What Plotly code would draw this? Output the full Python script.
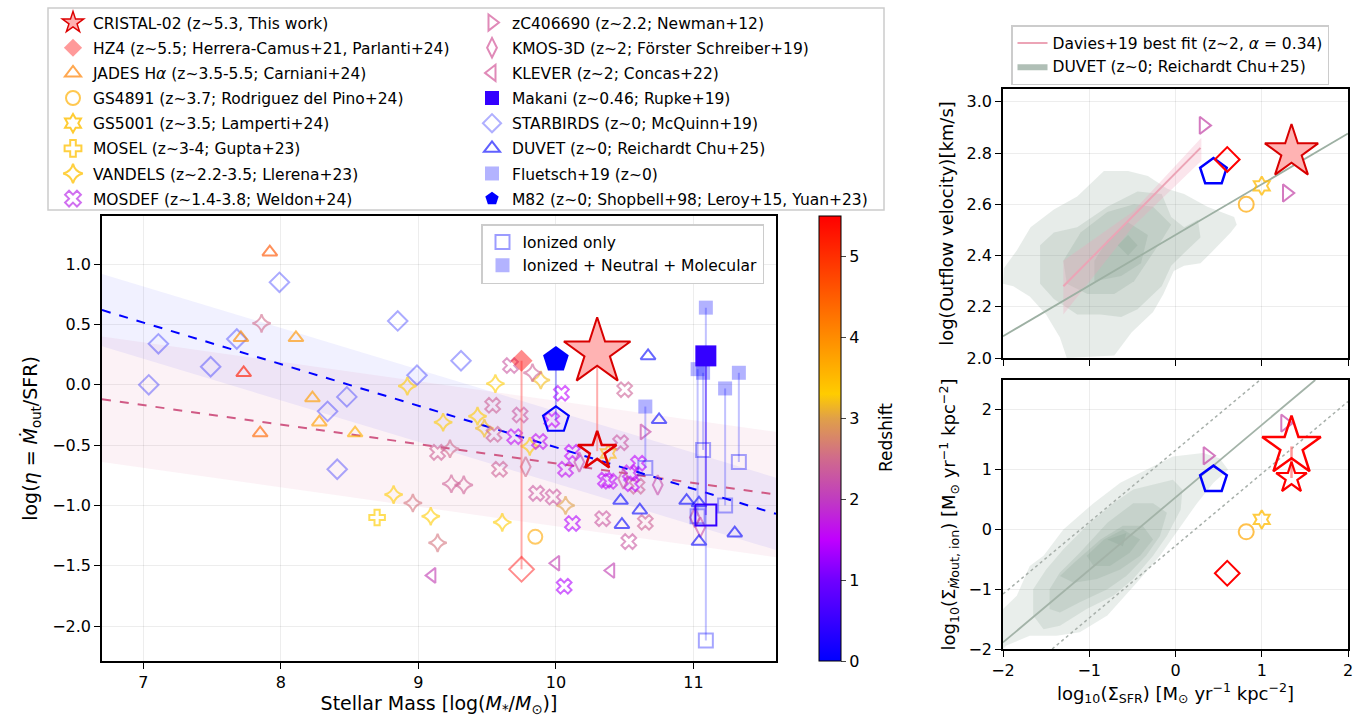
import plotly.graph_objects as go

W, H = 1370, 719
FONT = "DejaVu Sans"

# ---------------- redshift colour scale ----------------
Z_MAX = 5.5
z_stops = [0.0, 1.0, 1.5, 2.0, 2.5, 3.0, 3.3, 4.0, 5.5]
z_colors = ["#0000ff", "#7000ff", "#c000ff", "#c03cc0", "#d06a8c",
            "#e0a048", "#ffcc00", "#ff8c00", "#ff0000"]

# ---------------- mass-loading panel data ----------------
# JADES H-alpha
jades_mass = [8.11, 7.92, 7.71, 7.73, 8.23, 8.28, 7.85, 8.54]
jades_eta = [0.39, 1.10, 0.39, 0.10, -0.11, -0.31, -0.40, -0.40]
jades_z = [3.9, 4.6, 4.0, 5.2, 3.8, 3.8, 4.4, 3.6]

# STARBIRDS
starbirds_mass = [7.99, 7.11, 7.04, 7.49, 7.68, 8.85, 8.99, 8.48, 8.34, 8.41, 9.31]
starbirds_eta = [0.85, 0.34, 0.00, 0.15, 0.38, 0.53, 0.08, -0.10, -0.22, -0.70, 0.20]
starbirds_z = [0.0] * 11

# VANDELS
vandels_mass = [8.92, 9.56, 9.89, 9.18, 9.43, 9.48, 9.81, 8.82, 9.09, 9.61, 10.07,
                7.86, 9.83, 9.23, 9.24, 9.33, 8.96, 9.14]
vandels_eta = [-0.01, 0.01, 0.04, -0.31, -0.26, -0.36, -0.51, -0.91, -1.09, -1.14, -1.00,
               0.51, 0.10, -0.53, -0.82, -0.83, -0.98, -1.31]
vandels_z = [3.3, 3.3, 3.2, 3.3, 3.3, 3.2, 3.3, 3.3, 3.3, 3.3, 3.0,
             2.5, 2.4, 2.5, 2.4, 2.4, 2.6, 2.6]

# MOSDEF
mosdef_mass = [10.04, 9.67, 9.54, 9.74, 9.55, 9.14, 9.59, 9.86, 9.98, 10.34, 10.50, 10.47,
               10.59, 10.65, 10.53, 9.97, 9.70, 9.88, 10.12, 10.07, 10.36, 10.39, 10.55,
               10.60, 10.54, 10.12, 10.06]
mosdef_eta = [-0.07, 0.16, -0.17, -0.25, -0.41, -0.56, -0.70, -0.90, -0.93, -1.11, -0.04, -0.48,
              -0.84, -1.14, -1.30, -0.29, -0.43, -0.47, -0.56, -0.70, -0.79, -0.80, -0.82,
              -0.65, -0.73, -1.15, -1.67]
mosdef_z = [1.5, 2.3, 2.4, 2.3, 2.4, 2.4, 2.4, 2.3, 2.3, 2.3, 2.4, 2.3,
            2.4, 2.4, 2.3, 1.5, 1.6, 1.6, 1.5, 1.6, 1.5, 1.6, 1.5,
            1.5, 1.6, 1.4, 1.4]

# KMOS-3D
kmos_mass = [10.74, 10.49, 10.17, 11.01, 11.05, 9.78]
kmos_eta = [-0.83, -0.78, -0.64, -1.10, -1.18, -0.68]
kmos_z = [2.2, 2.3, 2.2, 2.3, 2.2, 2.5]

# KLEVER
klever_mass = [10.00, 10.40, 9.10]
klever_eta = [-1.48, -1.54, -1.58]
klever_z = [2.1, 2.1, 2.1]

# zC406690
zc_mass = [10.64]
zc_eta = [-0.39]
zc_z = [2.2]

# DUVET
duvet_mass = [10.67, 10.75, 10.47, 10.61, 10.48, 10.95, 11.04, 11.04, 11.30]
duvet_eta = [0.24, -0.29, -0.96, -1.04, -1.16, -0.96, -0.98, -1.30, -1.23]
duvet_z = [0.0] * 9

# Fluetsch+19: ionized only vs ionized + neutral + molecular
fluetsch_mass = [10.65, 11.03, 11.07, 11.09, 11.23, 11.33]
fluetsch_eta_total = [-0.18, 0.13, 0.10, 0.64, -0.03, 0.10]
fluetsch_eta_ion = [-0.69, -1.09, -0.54, -2.12, -1.00, -0.64]
fluetsch_z = [0.0] * 6

# Makani
makani_mass = [11.09]
makani_eta_total = [0.24]
makani_eta_ion = [-1.08]
makani_z = [0.46]

# M82
m82_mass = [10.00]
m82_eta_total = [0.21]
m82_eta_ion = [-0.29]
m82_z = [0.0]

# HZ4
hz4_mass = [9.75]
hz4_eta_total = [0.20]
hz4_eta_ion = [-1.53]
hz4_z = [5.5]

# CRISTAL-02
cristal_mass = [10.30]
cristal_eta_total = [0.27]
cristal_eta_ion = [-0.55]

# single objects
gs4891_mass, gs4891_eta, gs4891_z = [9.85], [-1.26], [3.7]
gs5001_mass, gs5001_eta, gs5001_z = [10.38], [-0.57], [3.5]
mosel_mass, mosel_eta, mosel_z = [8.70], [-1.10], [3.3]

# mass-loading relations (end points) with their scatter bands
fit_mass = [6.7, 11.6]
lowz_fit = [0.62, -1.07]
lowz_upper = [0.92, -0.77]
lowz_lower = [0.32, -1.37]
highz_fit = [-0.12, -0.91]
highz_upper = [0.40, -0.39]
highz_lower = [-0.64, -1.43]

# ---------------- outflow velocity panel ----------------
vel_sfr = {"zc": [0.325, 1.29], "m82": [0.44], "hz4": [0.60], "gs4891": [0.82],
           "gs5001": [1.00], "cristal": [1.345]}
vel_logv = {"zc": [2.908, 2.644], "m82": [2.726], "hz4": [2.775], "gs4891": [2.60],
            "gs5001": [2.672], "cristal": [2.804]}

duvet_vel_fit_x = [-2.0, 2.0]
duvet_vel_fit_y = [2.085, 2.876]
davies_x = [-1.30, 0.29]
davies_y = [2.28, 2.82]
davies_band_x = [-1.30, -0.50, 0.30, 0.30, -0.50, -1.30]
davies_band_y = [2.38, 2.57, 2.86, 2.77, 2.51, 2.17]

# DUVET density levels (outer to inner), velocity panel
vel_levels = [
    ([-1.99, -1.84, -1.68, -1.41, -1.14, -0.83, -0.55, -0.32, -0.09, 0.10, 0.37, 0.68, 0.71,
      0.64, 0.41, 0.29, 0.10, -0.02, -0.14, -0.26, -0.51, -0.71, -1.26, -1.34, -1.50, -1.69,
      -1.88, -2.0],
     [2.35, 2.42, 2.51, 2.58, 2.63, 2.73, 2.73, 2.71, 2.66, 2.64, 2.59, 2.55, 2.52,
      2.49, 2.41, 2.37, 2.36, 2.34, 2.25, 2.18, 2.10, 2.01, 2.0, 2.08, 2.17, 2.24,
      2.28, 2.29]),
    ([-1.57, -1.41, -1.14, -0.79, -0.44, -0.16, -0.05, 0.10, 0.26, 0.29, 0.10, -0.05, -0.16,
      -0.44, -0.63, -0.87, -1.14, -1.41, -1.57],
     [2.44, 2.49, 2.51, 2.59, 2.65, 2.64, 2.55, 2.51, 2.54, 2.47, 2.41, 2.36, 2.28,
      2.19, 2.16, 2.17, 2.17, 2.23, 2.29]),
    ([-1.30, -1.10, -0.79, -0.48, -0.26, -0.05, -0.16, -0.32, -0.48, -0.71, -1.02, -1.26],
     [2.38, 2.49, 2.57, 2.60, 2.59, 2.52, 2.46, 2.38, 2.30, 2.25, 2.25, 2.29]),
    ([-0.94, -0.79, -0.55, -0.32, -0.40, -0.63, -0.94],
     [2.38, 2.46, 2.53, 2.48, 2.37, 2.32, 2.30]),
    ([-0.55, -0.44, -0.55, -0.67],
     [2.48, 2.44, 2.40, 2.44]),
]

# ---------------- outflow rate surface density panel ----------------
rate_sfr = {"zc": [1.27, 0.37], "m82": [0.44], "hz4": [0.60], "gs4891": [0.82],
            "gs5001": [1.00]}
rate_val = {"zc": [1.778, 1.233], "m82": [0.833], "hz4": [-0.733], "gs4891": [-0.04],
            "gs5001": [0.167]}
cristal_rate_sfr = [1.345]
cristal_rate_total = [1.389]
cristal_rate_ion = [0.861]

rate_fit_x = [-2.0, 1.62]
rate_fit_y = [-1.89, 2.5]
rate_upper_x = [-2.0, 0.98]
rate_upper_y = [-1.08, 2.5]
rate_lower_x = [-1.43, 2.0]
rate_lower_y = [-2.0, 2.14]

rate_levels = [
    ([-2.0, -1.84, -1.69, -1.53, -1.30, -0.95, -0.64, -0.34, -0.03, 0.32, 0.51, 0.61, 0.44,
      0.25, 0.06, -0.18, -0.45, -0.79, -1.11, -1.38, -1.69, -1.96, -2.0],
     [-1.33, -1.11, -0.61, -0.44, 0.0, 0.44, 0.78, 1.0, 1.22, 1.28, 1.19, 1.0, 0.78,
      0.44, 0.06, -0.44, -0.89, -1.44, -1.72, -1.78, -1.78, -1.94, -2.0]),
    ([-1.65, -1.65, -1.50, -1.30, -1.03, -0.72, -0.49, -0.26, -0.03, 0.08, 0.06, -0.10, -0.26,
      -0.49, -0.72, -1.03, -1.34, -1.53],
     [-1.44, -1.0, -0.67, -0.33, 0.06, 0.44, 0.67, 0.75, 0.83, 0.67, 0.33, -0.11, -0.44,
      -0.83, -1.11, -1.33, -1.61, -1.67]),
    ([-1.46, -1.46, -1.34, -1.11, -0.79, -0.49, -0.26, -0.10, -0.18, -0.34, -0.57, -0.79,
      -1.11, -1.34],
     [-1.33, -1.0, -0.72, -0.39, 0.11, 0.44, 0.44, 0.28, -0.11, -0.44, -0.78, -1.0,
      -1.22, -1.39]),
    ([-1.34, -1.18, -0.87, -0.61, -0.38, -0.26, -0.41, -0.64, -0.91, -1.18],
     [-0.78, -0.56, -0.17, 0.06, 0.06, -0.17, -0.44, -0.67, -0.83, -0.89]),
    ([-1.03, -0.83, -0.61, -0.41, -0.53, -0.76, -0.95],
     [-0.44, -0.17, 0.0, -0.17, -0.39, -0.61, -0.61]),
    ([-0.79, -0.57, -0.61],
     [-0.17, -0.06, -0.28]),
]

# ---------------- legend entries ----------------
legend_left = [
    ("CRISTAL-02 (z~5.3, This work)", "star", "#ffb0b0", "#dd0000", 1.5),
    ("HZ4 (z~5.5; Herrera-Camus+21, Parlanti+24)", "diamond", "#ff9a9a", "#ff9a9a", 0),
    ("JADES H<i>α</i> (z~3.5-5.5; Carniani+24)", "triangle-up-open", "#ffa850", "#ffa850", 2),
    ("GS4891 (z~3.7; Rodriguez del Pino+24)", "circle-open", "#ffc850", "#ffc850", 2),
    ("GS5001 (z~3.5; Lamperti+24)", "hexagram-open", "#ffcc33", "#ffcc33", 2),
    ("MOSEL (z~3-4; Gupta+23)", "cross-open", "#ffd040", "#ffd040", 2),
    ("VANDELS (z~2.2-3.5; Llerena+23)", "star-diamond-open", "#ffd040", "#ffd040", 2),
    ("MOSDEF (z~1.4-3.8; Weldon+24)", "x-open", "#d070f0", "#d070f0", 2),
]
legend_right = [
    ("zC406690 (z~2.2; Newman+12)", "triangle-right-open", "#e08ab8", "#e08ab8", 2),
    ("KMOS-3D (z~2; Förster Schreiber+19)", "diamond-tall-open", "#e08ab8", "#e08ab8", 2),
    ("KLEVER (z~2; Concas+22)", "triangle-left-open", "#e08ab8", "#e08ab8", 2),
    ("Makani (z~0.46; Rupke+19)", "square", "#3300ff", "#3300ff", 0),
    ("STARBIRDS (z~0; McQuinn+19)", "diamond-open", "#b0b0ff", "#b0b0ff", 2),
    ("DUVET (z~0; Reichardt Chu+25)", "triangle-up-open", "#6060ff", "#6060ff", 2),
    ("Fluetsch+19 (z~0)", "square", "#b3b3ff", "#b3b3ff", 0),
    ("M82 (z~0; Shopbell+98; Leroy+15, Yuan+23)", "pentagon", "#0000ff", "#0000ff", 0),
]

fig = go.Figure()


def add(x, y, xa="x", ya="y", **kw):
    fig.add_trace(go.Scatter(x=x, y=y, xaxis=xa, yaxis=ya, showlegend=False,
                             hoverinfo="skip", **kw))


def zmark(x, y, z, symbol, size, opacity, lw=2, xa="x", ya="y"):
    add(x, y, xa, ya, mode="markers",
        marker=dict(symbol=symbol, size=size, color=z, coloraxis="coloraxis",
                    opacity=opacity, line=dict(width=lw)))


def vlinks(x, y0, y1, color, width=2, xa="x", ya="y"):
    xs, ys = [], []
    for xi, a, b in zip(x, y0, y1):
        xs += [xi, xi, None]
        ys += [a, b, None]
    add(xs, ys, xa, ya, mode="lines", line=dict(color=color, width=width))


# ---- main panel: relation bands and fits ----
add(fit_mass + fit_mass[::-1], highz_upper + highz_lower[::-1], mode="lines",
    fill="toself", fillcolor="rgba(215,90,140,0.08)", line=dict(width=0))
add(fit_mass + fit_mass[::-1], lowz_upper + lowz_lower[::-1], mode="lines",
    fill="toself", fillcolor="rgba(40,40,255,0.065)", line=dict(width=0))
add(fit_mass, highz_fit, mode="lines", line=dict(color="#d05a85", width=2, dash="dash"))
add(fit_mass, lowz_fit, mode="lines", line=dict(color="#0000ff", width=2, dash="dash"))

# ---- main panel: samples ----
zmark(starbirds_mass, starbirds_eta, starbirds_z, "diamond-open", 15, 0.33)
zmark(jades_mass, jades_eta, jades_z, "triangle-up-open", 13, 0.65)
zmark(vandels_mass, vandels_eta, vandels_z, "star-diamond-open", 13, 0.6)
zmark(mosel_mass, mosel_eta, mosel_z, "cross-open", 13, 0.65)
zmark(mosdef_mass, mosdef_eta, mosdef_z, "x-open", 13, 0.6)
zmark(kmos_mass, kmos_eta, kmos_z, "diamond-tall-open", 14, 0.6)
zmark(klever_mass, klever_eta, klever_z, "triangle-left-open", 13, 0.65)
zmark(zc_mass, zc_eta, zc_z, "triangle-right-open", 13, 0.65)
zmark(duvet_mass, duvet_eta, duvet_z, "triangle-up-open", 13, 0.6)
zmark(gs4891_mass, gs4891_eta, gs4891_z, "circle-open", 14, 0.6)
zmark(gs5001_mass, gs5001_eta, gs5001_z, "hexagram-open", 13, 0.6)

vlinks(fluetsch_mass, fluetsch_eta_total, fluetsch_eta_ion, "rgba(80,80,255,0.35)", 2)
zmark(fluetsch_mass, fluetsch_eta_total, fluetsch_z, "square", 14, 0.3, lw=0)
zmark(fluetsch_mass, fluetsch_eta_ion, fluetsch_z, "square-open", 14, 0.35)

vlinks(makani_mass, makani_eta_total, makani_eta_ion, "rgba(60,0,255,0.45)", 2)
zmark(makani_mass, makani_eta_total, makani_z, "square", 21, 1.0, lw=0)
zmark(makani_mass, makani_eta_ion, makani_z, "square-open", 21, 1.0)

vlinks(hz4_mass, hz4_eta_total, hz4_eta_ion, "rgba(255,100,100,0.55)", 2)
zmark(hz4_mass, hz4_eta_total, hz4_z, "diamond", 17, 0.45, lw=0)
zmark(hz4_mass, hz4_eta_ion, hz4_z, "diamond-open", 19, 0.45)

vlinks(m82_mass, m82_eta_total, m82_eta_ion, "rgba(60,60,255,0.4)", 2)
zmark(m82_mass, m82_eta_total, m82_z, "pentagon", 27, 1.0, lw=0)
zmark(m82_mass, m82_eta_ion, m82_z, "pentagon-open", 27, 1.0, lw=2.2)

vlinks(cristal_mass, cristal_eta_total, cristal_eta_ion, "rgba(255,120,120,0.6)", 2)
add(cristal_mass, cristal_eta_total, mode="markers",
    marker=dict(symbol="star", size=50, color="#ffb3b3", line=dict(color="#d80000", width=2)))
add(cristal_mass, cristal_eta_ion, mode="markers",
    marker=dict(symbol="star-open", size=29, color="#e00000", line=dict(width=2.5)))

# ---- outflow velocity panel ----
for lx, ly in vel_levels:
    add(lx, ly, "x2", "y2", mode="lines", fill="toself",
        fillcolor="rgba(110,140,122,0.17)", line=dict(width=0))
add(davies_band_x, davies_band_y, "x2", "y2", mode="lines", fill="toself",
    fillcolor="rgba(240,160,185,0.28)", line=dict(width=0))
add(duvet_vel_fit_x, duvet_vel_fit_y, "x2", "y2", mode="lines",
    line=dict(color="#9db0a3", width=1.8))
fig.add_trace(go.Scatter(x=davies_x, y=davies_y, xaxis="x2", yaxis="y2", mode="lines",
                         line=dict(color="#eca4b6", width=2),
                         name="Davies+19 best fit (z~2, <i>α</i> = 0.34)",
                         legend="legend4", hoverinfo="skip"))
fig.add_trace(go.Scatter(x=[None], y=[None], xaxis="x2", yaxis="y2", mode="lines",
                         fill="toself", fillcolor="rgba(150,170,157,0.75)",
                         line=dict(width=0), name="DUVET (z~0; Reichardt Chu+25)",
                         legend="legend4", hoverinfo="skip"))

zmark(vel_sfr["zc"], vel_logv["zc"], [2.2, 2.2], "triangle-right-open", 15, 0.75, xa="x2", ya="y2")
zmark(vel_sfr["m82"], vel_logv["m82"], [0.0], "pentagon-open", 28, 1.0, lw=2.5, xa="x2", ya="y2")
zmark(vel_sfr["hz4"], vel_logv["hz4"], [5.5], "diamond-open", 19, 1.0, xa="x2", ya="y2")
zmark(vel_sfr["gs4891"], vel_logv["gs4891"], [3.7], "circle-open", 15, 0.7, xa="x2", ya="y2")
zmark(vel_sfr["gs5001"], vel_logv["gs5001"], [3.5], "hexagram-open", 14, 0.75, xa="x2", ya="y2")
add(vel_sfr["cristal"], vel_logv["cristal"], "x2", "y2", mode="markers",
    marker=dict(symbol="star", size=40, color="#ffb3b3", line=dict(color="#d80000", width=2)))

# ---- outflow rate surface density panel ----
for lx, ly in rate_levels:
    add(lx, ly, "x3", "y3", mode="lines", fill="toself",
        fillcolor="rgba(110,140,122,0.15)", line=dict(width=0))
add(rate_upper_x, rate_upper_y, "x3", "y3", mode="lines",
    line=dict(color="#a8b0ab", width=1.5, dash="dot"))
add(rate_lower_x, rate_lower_y, "x3", "y3", mode="lines",
    line=dict(color="#a8b0ab", width=1.5, dash="dot"))
add(rate_fit_x, rate_fit_y, "x3", "y3", mode="lines", line=dict(color="#a3b3a8", width=1.8))

zmark(rate_sfr["zc"], rate_val["zc"], [2.2, 2.2], "triangle-right-open", 15, 0.75, xa="x3", ya="y3")
zmark(rate_sfr["m82"], rate_val["m82"], [0.0], "pentagon-open", 28, 1.0, lw=2.5, xa="x3", ya="y3")
zmark(rate_sfr["hz4"], rate_val["hz4"], [5.5], "diamond-open", 19, 1.0, xa="x3", ya="y3")
zmark(rate_sfr["gs4891"], rate_val["gs4891"], [3.7], "circle-open", 15, 0.7, xa="x3", ya="y3")
zmark(rate_sfr["gs5001"], rate_val["gs5001"], [3.5], "hexagram-open", 14, 0.75, xa="x3", ya="y3")
vlinks(cristal_rate_sfr, cristal_rate_total, cristal_rate_ion, "rgba(255,110,110,0.7)", 2.5,
       xa="x3", ya="y3")
add(cristal_rate_sfr, cristal_rate_total, "x3", "y3", mode="markers",
    marker=dict(symbol="star-open", size=44, color="#ff0000", line=dict(width=2.5)))
add(cristal_rate_sfr, cristal_rate_ion, "x3", "y3", mode="markers",
    marker=dict(symbol="star-open", size=23, color="#ff0000", line=dict(width=2.2)))

# ---- legend entries ----
for legend_name, entries in (("legend", legend_left), ("legend2", legend_right)):
    for label, sym, col, lcol, lw in entries:
        fig.add_trace(go.Scatter(
            x=[None], y=[None], mode="markers", name=label, legend=legend_name,
            legendgroup=label,
            marker=dict(symbol=sym, size=14 if sym != "star" else 22, color=col,
                        line=dict(color=lcol, width=lw))))

fig.add_trace(go.Scatter(x=[None], y=[None], mode="markers", name="Ionized only",
                         legend="legend3", legendgroup="ion",
                         marker=dict(symbol="square-open", size=14, color="#9c9cff",
                                     line=dict(width=2))))
fig.add_trace(go.Scatter(x=[None], y=[None], mode="markers",
                         name="Ionized + Neutral + Molecular", legend="legend3",
                         legendgroup="all",
                         marker=dict(symbol="square", size=14, color="#b3b3ff")))

# ---------------- layout ----------------
def px_x(p):
    return p / W


def px_y(p):
    return 1 - p / H


axis_common = dict(showline=True, linecolor="black", linewidth=1.5, mirror=True,
                   ticks="outside", ticklen=6, tickwidth=1.3, tickcolor="black",
                   gridcolor="rgba(0,0,0,0.07)", zeroline=False,
                   tickfont=dict(size=16, color="black"))

legend_common = dict(font=dict(family=FONT, size=15.5, color="black"),
                     xanchor="left", yanchor="top", tracegroupgap=2,
                     bgcolor="rgba(0,0,0,0)", borderwidth=0, itemclick=False)

fig.update_layout(
    width=W, height=H, margin=dict(l=0, r=0, t=0, b=0, autoexpand=False),
    paper_bgcolor="white", plot_bgcolor="white",
    font=dict(family=FONT, color="black"),
    xaxis=dict(domain=[px_x(102), px_x(776)], range=[6.7, 11.6], tickvals=[7, 8, 9, 10, 11],
               title=dict(text="Stellar Mass [log(<i>M</i><sub>*</sub>/<i>M</i><sub>⊙</sub>)]",
                          font=dict(size=19), standoff=6), anchor="y", **axis_common),
    yaxis=dict(domain=[px_y(661), px_y(216)], range=[-2.29, 1.40], dtick=0.5, tick0=0,
               tickformat=".1f",
               title=dict(text="log(<i>η</i> = <i>Ṁ</i><sub>out</sub>/SFR)",
                          font=dict(size=19), standoff=10), anchor="x", **axis_common),
    xaxis2=dict(domain=[px_x(1003), px_x(1348)], range=[-2, 2], dtick=1, anchor="y2",
                showticklabels=False, matches="x3", **axis_common),
    yaxis2=dict(domain=[px_y(358), px_y(89)], range=[2.0, 3.05], dtick=0.2, tick0=2.0,
                tickformat=".1f", anchor="x2",
                title=dict(text="log(Outflow velocity)[km/s]", font=dict(size=18), standoff=8),
                **axis_common),
    xaxis3=dict(domain=[px_x(1003), px_x(1348)], range=[-2, 2], dtick=1, anchor="y3",
                title=dict(text="log<sub>10</sub>(Σ<sub>SFR</sub>) [M<sub>⊙</sub> yr<sup>−1</sup> kpc<sup>−2</sup>]",
                           font=dict(size=18), standoff=4), **axis_common),
    yaxis3=dict(domain=[px_y(649), px_y(380)], range=[-2, 2.5], dtick=1, anchor="x3",
                title=dict(text="log<sub>10</sub>(Σ<sub><i>Ṁ</i>out, ion</sub>) [M<sub>⊙</sub> yr<sup>−1</sup> kpc<sup>−2</sup>]",
                           font=dict(size=18), standoff=8), **axis_common),
    coloraxis=dict(
        cmin=0, cmax=Z_MAX,
        colorscale=[[s / Z_MAX, c] for s, c in zip(z_stops, z_colors)],
        colorbar=dict(x=px_x(819), xanchor="left", xpad=0,
                      y=px_y(661), yanchor="bottom", ypad=0,
                      len=445, lenmode="pixels", thickness=22, thicknessmode="pixels",
                      outlinewidth=1, outlinecolor="black", ticks="outside", ticklen=5,
                      tickvals=[0, 1, 2, 3, 4, 5], tickfont=dict(size=16, color="black"))),
    annotations=[dict(text="Redshift", textangle=-90, xref="paper", yref="paper",
                      x=px_x(886), y=px_y(438), showarrow=False,
                      font=dict(size=17, color="black"))],
    legend=dict(x=px_x(53), y=px_y(6), **legend_common),
    legend2=dict(x=px_x(472), y=px_y(6), **legend_common),
    legend3=dict(x=px_x(481), y=px_y(224), font=dict(family=FONT, size=15.5, color="black"),
                 xanchor="left", yanchor="top", bgcolor="white", bordercolor="#cccccc",
                 borderwidth=1.5, tracegroupgap=0, itemclick=False),
    legend4=dict(x=px_x(1011), y=px_y(25), font=dict(family=FONT, size=15.5, color="black"),
                 xanchor="left", yanchor="top", bgcolor="white", bordercolor="#cccccc",
                 borderwidth=1.5, tracegroupgap=0, itemclick=False),
    shapes=[dict(type="rect", xref="paper", yref="paper", x0=px_x(48), x1=px_x(884),
                 y0=px_y(210), y1=px_y(8), line=dict(color="#cccccc", width=1.5),
                 fillcolor="white", layer="below")],
)

fig.write_html("out.html")
